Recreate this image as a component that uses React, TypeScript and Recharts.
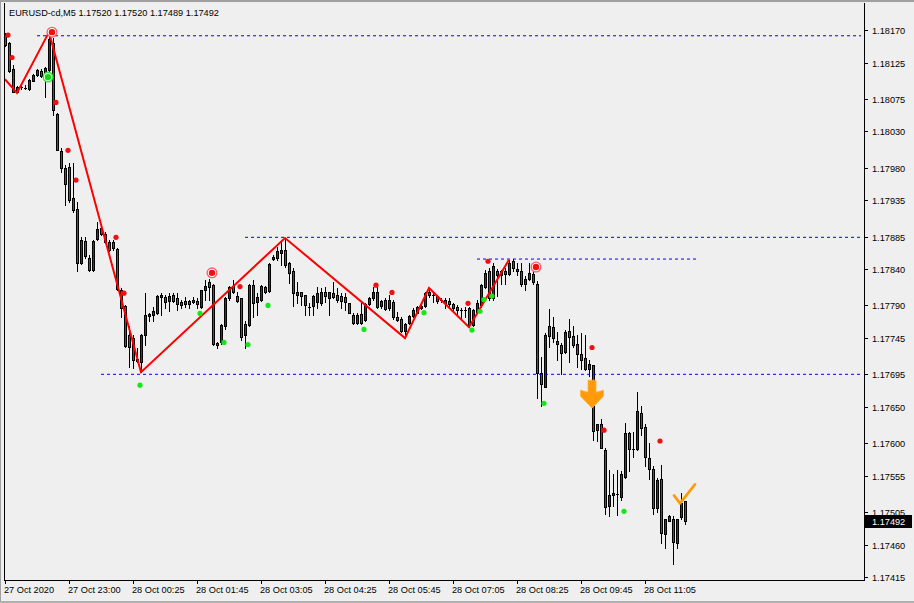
import React from 'react';
import { ComposedChart, Bar, Line, XAxis, YAxis, ReferenceLine } from 'recharts';

// EURUSD M5 candles, prices in points (1 point = 0.00001)
const opens = [
  118163, 118152, 118116, 118085, 118091, 118089, 118088, 118100, 118108, 118114,
  118105, 118115, 118152, 118054, 118003, 117979, 117981, 117938, 117923, 117848,
  117879, 117856, 117839, 117881, 117897, 117888, 117877, 117878, 117868, 117811,
  117789, 117749, 117745, 117716, 117712, 117749, 117776, 117777, 117779, 117802,
  117802, 117796, 117804, 117800, 117795, 117796, 117796, 117797, 117796, 117788,
  117811, 117822, 117818, 117738, 117739, 117761, 117800, 117817, 117803, 117800,
  117749, 117763, 117818, 117795, 117797, 117815, 117810, 117854, 117856, 117863,
  117866, 117848, 117838, 117808, 117808, 117804, 117788, 117789, 117795, 117794,
  117809, 117800, 117807, 117804, 117803, 117802, 117793, 117777, 117766, 117778,
  117770, 117792, 117800, 117809, 117789, 117797, 117787, 117795, 117774, 117772,
  117755, 117766, 117775, 117780, 117787, 117789, 117809, 117804, 117803, 117798,
  117797, 117796, 117792, 117788, 117784, 117784, 117786, 117763, 117781, 117791,
  117815, 117837, 117800, 117837, 117832, 117838, 117833, 117852, 117840, 117838,
  117820, 117827, 117833, 117820, 117697, 117678, 117762, 117760, 117741, 117735,
  117726, 117755, 117748, 117737, 117723, 117717, 117703, 117708, 117618, 117627,
  117591, 117513, 117528, 117530, 117526, 117554, 117614, 117592, 117592, 117642,
  117622, 117579, 117565, 117510, 117550, 117475, 117493, 117496, 117463, 117498,
  117520,
];
const highs = [
  118166, 118154, 118122, 118093, 118094, 118094, 118102, 118109, 118116, 118116,
  118119, 118167, 118159, 118055, 118007, 117984, 117986, 117987, 117933, 117885,
  117884, 117860, 117880, 117905, 117899, 117892, 117880, 117880, 117869, 117814,
  117791, 117761, 117749, 117731, 117751, 117807, 117779, 117788, 117804, 117807,
  117804, 117807, 117807, 117807, 117798, 117802, 117797, 117801, 117800, 117812,
  117825, 117826, 117820, 117740, 117764, 117802, 117817, 117825, 117809, 117800,
  117768, 117820, 117825, 117807, 117818, 117817, 117848, 117860, 117871, 117878,
  117883, 117850, 117842, 117823, 117809, 117805, 117793, 117804, 117815, 117814,
  117816, 117809, 117823, 117814, 117807, 117807, 117794, 117779, 117779, 117795,
  117793, 117802, 117816, 117818, 117798, 117800, 117804, 117797, 117781, 117774,
  117766, 117777, 117786, 117789, 117793, 117808, 117814, 117807, 117804, 117800,
  117800, 117800, 117794, 117791, 117787, 117788, 117788, 117785, 117797, 117820,
  117839, 117841, 117848, 117840, 117839, 117841, 117853, 117854, 117848, 117848,
  117830, 117848, 117837, 117824, 117719, 117752, 117785, 117774, 117754, 117738,
  117756, 117771, 117761, 117749, 117752, 117749, 117715, 117708, 117627, 117634,
  117593, 117563, 117557, 117563, 117561, 117628, 117616, 117616, 117670, 117651,
  117627, 117600, 117568, 117552, 117570, 117496, 117501, 117499, 117496, 117531,
  117520,
];
const lows = [
  118148, 118112, 118084, 118084, 118089, 118088, 118087, 118099, 118106, 118105,
  118078, 118113, 118053, 118004, 117974, 117929, 117933, 117919, 117837, 117847,
  117855, 117837, 117838, 117880, 117887, 117876, 117865, 117867, 117811, 117774,
  117733, 117705, 117704, 117712, 117698, 117735, 117768, 117768, 117778, 117777,
  117786, 117783, 117795, 117784, 117786, 117788, 117786, 117794, 117787, 117787,
  117797, 117797, 117735, 117731, 117737, 117758, 117798, 117807, 117795, 117742,
  117731, 117761, 117774, 117777, 117796, 117807, 117809, 117853, 117853, 117846,
  117843, 117821, 117789, 117793, 117791, 117777, 117777, 117777, 117787, 117791,
  117795, 117777, 117800, 117795, 117786, 117784, 117779, 117765, 117765, 117765,
  117769, 117791, 117797, 117786, 117787, 117784, 117784, 117772, 117768, 117754,
  117745, 117765, 117774, 117779, 117785, 117788, 117802, 117795, 117794, 117795,
  117786, 117788, 117781, 117777, 117772, 117774, 117760, 117761, 117779, 117788,
  117814, 117798, 117798, 117803, 117820, 117820, 117832, 117837, 117832, 117817,
  117812, 117825, 117820, 117662, 117651, 117677, 117733, 117740, 117715, 117695,
  117724, 117712, 117733, 117705, 117702, 117701, 117693, 117604, 117603, 117593,
  117503, 117500, 117513, 117501, 117522, 117552, 117561, 117581, 117590, 117611,
  117568, 117550, 117503, 117505, 117462, 117455, 117492, 117434, 117455, 117496,
  117489,
];
const closes = [
  118149, 118114, 118085, 118091, 118092, 118090, 118101, 118108, 118115, 118106,
  118117, 118158, 118060, 118005, 117980, 117957, 117935, 117921, 117848, 117880,
  117858, 117839, 117879, 117896, 117888, 117878, 117866, 117869, 117813, 117787,
  117734, 117733, 117715, 117713, 117749, 117777, 117778, 117782, 117803, 117804,
  117795, 117803, 117796, 117792, 117791, 117792, 117792, 117795, 117792, 117811,
  117817, 117816, 117737, 117736, 117763, 117800, 117815, 117809, 117796, 117746,
  117764, 117818, 117793, 117801, 117817, 117808, 117847, 117857, 117865, 117867,
  117846, 117835, 117807, 117804, 117803, 117791, 117787, 117803, 117807, 117808,
  117803, 117808, 117802, 117797, 117796, 117795, 117780, 117766, 117777, 117766,
  117792, 117800, 117808, 117788, 117796, 117785, 117797, 117774, 117770, 117755,
  117765, 117775, 117784, 117788, 117789, 117807, 117804, 117803, 117796, 117796,
  117794, 117792, 117787, 117784, 117782, 117782, 117763, 117784, 117794, 117818,
  117835, 117800, 117844, 117832, 117837, 117833, 117849, 117841, 117837, 117820,
  117827, 117835, 117822, 117697, 117681, 117749, 117748, 117745, 117737, 117724,
  117754, 117746, 117735, 117723, 117715, 117703, 117709, 117617, 117626, 117594,
  117512, 117528, 117531, 117528, 117558, 117614, 117592, 117591, 117645, 117621,
  117581, 117565, 117510, 117549, 117476, 117495, 117500, 117464, 117495, 117517,
  117492,
];

// [bar index, price in points]
const zigzag = [[0, 118102], [3, 118083], [11, 118167], [34, 117698], [70, 117883], [100, 117745], [106, 117814], [116, 117760], [126, 117853]];
const sellDots = [[0, 118163], [1, 118132], [12, 118070], [15, 118004], [17, 117963], [27, 117884], [29, 117807], [58, 117816], [92, 117818], [96, 117808], [115, 117793], [120, 117851], [146, 117732], [149, 117618], [163, 117603]];
const buyDots = [[33, 117680], [48, 117779], [54, 117739], [60, 117736], [65, 117790], [89, 117757], [104, 117780], [116, 117756], [118, 117782], [119, 117798], [121, 117803], [134, 117655], [154, 117506]];
const sellRings = [[11, 118167], [51, 117835], [132, 117843]];
const buyRings = [[10, 118105]];
const downArrows = [[146, 117687]];
const checkMarks = [[169, 117517]];

// horizontal levels: [from bar, to bar, price in points]
const levels = [[8, 214, 118162], [60, 214, 117884], [24, 214, 117695], [118, 173, 117854]];

const timeTicks = [0, 16, 32, 48, 64, 80, 96, 112, 128, 144, 160];
const timeLabels = ['27 Oct 2020', '27 Oct 23:00', '28 Oct 00:25', '28 Oct 01:45', '28 Oct 03:05', '28 Oct 04:25', '28 Oct 05:45', '28 Oct 07:05', '28 Oct 08:25', '28 Oct 09:45', '28 Oct 11:05'];
const priceTicks = [1.1817, 1.18125, 1.18075, 1.1803, 1.1798, 1.17935, 1.17885, 1.1784, 1.1779, 1.17745, 1.17695, 1.1765, 1.176, 1.17555, 1.17505, 1.1746, 1.17415];
const lastPrice = 1.17492;
const title = 'EURUSD-cd,M5  1.17520 1.17520 1.17489 1.17492';

const SLOTS = 215;
const FONT = '"Liberation Sans", Arial, sans-serif';
const BULL = '#1f2fc4';
const BEAR = '#f01010';
const toPrice = (pt: number) => pt / 100000;

const rows: any[] = Array.from({ length: SLOTS }, (_, i) => ({ i }));
opens.forEach((o, i) => {
  rows[i].o = toPrice(o);
  rows[i].h = toPrice(highs[i]);
  rows[i].l = toPrice(lows[i]);
  rows[i].c = toPrice(closes[i]);
});
const put = (list: number[][], key: string) => list.forEach(([i, p]) => { rows[i][key] = toPrice(p); });
put(zigzag, 'zz');
put(sellDots, 'sd');
put(buyDots, 'bd');
put(sellRings, 'sr');
put(buyRings, 'br');
put(downArrows, 'ar');
put(checkMarks, 'ck');

const Candle = (props: any) => {
  const { x, y, width, height, payload } = props;
  if (!payload || payload.h == null) return <g />;
  const top = Math.min(y, y + height);
  const bot = Math.max(y, y + height);
  const k = payload.h === payload.l ? 0 : (bot - top) / (payload.h - payload.l);
  const py = (p: number) => top + (payload.h - p) * k;
  const cx = Math.round(x + width / 2);
  const yo = py(payload.o);
  const yc = py(payload.c);
  const bTop = Math.round(Math.min(yo, yc));
  const bBot = Math.round(Math.max(yo, yc));
  const up = payload.c >= payload.o;
  const wTop = Math.round(top);
  const wBot = Math.round(bot);
  return (
    <g shapeRendering="crispEdges">
      <rect x={cx} y={wTop} width={1} height={Math.max(1, wBot - wTop + 1)} fill="#000" />
      {bBot - bTop < 2 ? (
        <rect x={cx - 1} y={bTop} width={3} height={1} fill="#000" />
      ) : (
        <>
          <rect x={cx - 1} y={bTop} width={3} height={bBot - bTop + 1} fill="#000" />
          <rect x={cx} y={bTop + 1} width={1} height={bBot - bTop - 1} fill={up ? BULL : BEAR} />
        </>
      )}
    </g>
  );
};

const marker = (draw: (x: number, y: number) => React.ReactNode) => (props: any) => {
  const { cx, cy, value, index } = props;
  if (value == null || cy == null || cx == null) return <g key={index} />;
  return <g key={index}>{draw(cx, cy)}</g>;
};

const sellDot = marker((x, y) => <circle cx={x + 3} cy={y} r={2.6} fill={BEAR} />);
const buyDot = marker((x, y) => <circle cx={x + 3} cy={y} r={2.6} fill="#19e619" />);
const sellRing = marker((x, y) => (
  <g>
    <circle cx={x + 3} cy={y} r={5.5} fill="#ff5a6e" />
    <circle cx={x + 3} cy={y} r={4.2} fill="#ffffff" />
    <circle cx={x + 3} cy={y} r={3.2} fill="#f01010" />
  </g>
));
const buyRing = marker((x, y) => (
  <g>
    <circle cx={x + 3} cy={y} r={5.5} fill="#2ee62e" />
    <circle cx={x + 3} cy={y} r={4.2} fill="#e8ffe8" />
    <circle cx={x + 3} cy={y} r={3.2} fill="#19d219" />
  </g>
));
const arrowDown = marker((x, y) => {
  const c = x + 3;
  const pts = [[-4, 0], [4, 0], [4, 12], [11.5, 10], [11.5, 16], [0, 28], [-11.5, 16], [-11.5, 10], [-4, 12]]
    .map(([dx, dy]) => `${c + dx},${y + dy}`).join(' ');
  return <polygon points={pts} fill="#ff9a0a" stroke="#ffb340" strokeWidth={0.8} />;
});
const checkMark = marker((x, y) => {
  const c = x - 1;
  return (
    <path d={`M${c - 6},${y - 8} L${c},${y} L${c + 15},${y - 19}`} fill="none" stroke="#ff9a0a"
      strokeWidth={2.6} strokeLinecap="round" strokeLinejoin="round" />
  );
});

const TimeTick = (props: any) => {
  const { x, payload } = props;
  const idx = timeTicks.indexOf(payload.value);
  if (idx < 0) return <g />;
  const tx = Math.round(x);
  return (
    <g>
      <rect x={tx} y={580} width={1} height={4} fill="#000" />
      <text x={tx - 1} y={593} fontSize={9.2} fontFamily={FONT} fill="#000">{timeLabels[idx]}</text>
    </g>
  );
};

const PriceTick = (props: any) => {
  const { y, payload } = props;
  const ty = Math.round(y);
  return (
    <g>
      <rect x={864} y={ty} width={4} height={1} fill="#000" />
      <text x={872} y={ty + 3.5} fontSize={9.2} fontFamily={FONT} fill="#000">{payload.value.toFixed(5)}</text>
    </g>
  );
};

const PriceBox = (props: any) => {
  const vb = props.viewBox || {};
  const y = Math.round(vb.y);
  return (
    <g>
      <rect x={865} y={y - 6} width={47} height={13} fill="#000" />
      <text x={872} y={y + 3.5} fontSize={9.2} fontFamily={FONT} fill="#fff">{lastPrice.toFixed(5)}</text>
    </g>
  );
};

const markerLine = (key: string, dot: any) => (
  <Line key={key} dataKey={key} stroke="none" dot={dot} activeDot={false} isAnimationActive={false} legendType="none" />
);

export default function App() {
  return (
    <div style={{ position: 'absolute', left: 0, top: 0, width: 914, height: 603, background: '#efefef' }}>
      <ComposedChart width={914} height={603} data={rows} margin={{ top: 3, right: 0, bottom: 0, left: 3 }}
        barCategoryGap={0}>
        <XAxis dataKey="i" type="category" interval={15} tick={<TimeTick />} tickLine={false} axisLine={false} height={23} />
        <YAxis orientation="right" width={51} domain={[1.174113, 1.182072]} allowDataOverflow ticks={priceTicks}
          interval={0} tick={<PriceTick />} tickLine={false} axisLine={false} />
        {levels.map(([a, b, p], k) => (
          <ReferenceLine key={`lv${k}`} segment={[{ x: a, y: toPrice(p) }, { x: b, y: toPrice(p) }]}
            stroke="#0000ff" strokeWidth={1} strokeDasharray="3 3" />
        ))}
        <Bar dataKey={(d: any) => (d.h == null ? null : [d.l, d.h])} shape={<Candle />} isAnimationActive={false} />
        <Line dataKey="zz" stroke="#ff0000" strokeWidth={2} dot={false} activeDot={false} connectNulls isAnimationActive={false} />
        {markerLine('sd', sellDot)}
        {markerLine('bd', buyDot)}
        {markerLine('sr', sellRing)}
        {markerLine('br', buyRing)}
        {markerLine('ar', arrowDown)}
        {markerLine('ck', checkMark)}
        <ReferenceLine y={lastPrice} stroke="none" label={<PriceBox />} />
      </ComposedChart>
      <svg width={914} height={603} style={{ position: 'absolute', left: 0, top: 0, pointerEvents: 'none' }}>
        <rect x={0} y={0} width={914} height={2} fill="#a0a0a0" />
        <rect x={0} y={0} width={1} height={603} fill="#a0a0a0" />
        <rect x={0} y={601} width={914} height={2} fill="#b0b0b0" />
        <rect x={4} y={3} width={1} height={578} fill="#000" />
        <rect x={864} y={3} width={1} height={578} fill="#000" />
        <rect x={4} y={580} width={861} height={1} fill="#000" />
        <text x={9} y={16} fontSize={9.2} fontFamily={FONT} fill="#000">{title}</text>
      </svg>
    </div>
  );
}
